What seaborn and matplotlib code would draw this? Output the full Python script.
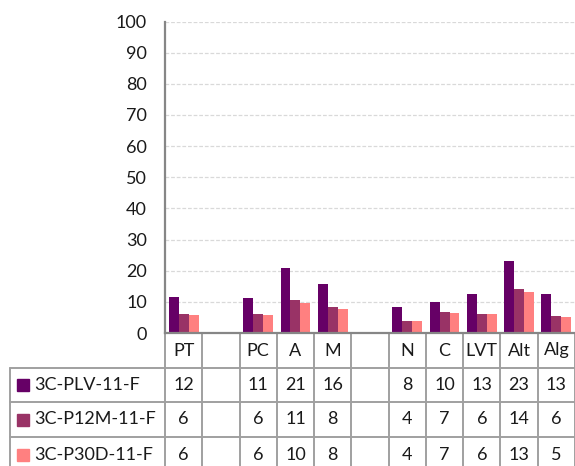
import numpy as np
import pandas as pd
import seaborn as sns
import matplotlib.pyplot as plt
import matplotlib.transforms as mtransforms

# category columns (blank ones are empty spacer columns)
categories = ['PT', '', 'PC', 'A', 'M', '', 'N', 'C', 'LVT', 'Alt', 'Alg']
series_names = ['3C-PLV-11-F', '3C-P12M-11-F', '3C-P30D-11-F']
plv = [11.6, None, 11.1, 20.8, 15.6, None, 8.3, 10.1, 12.6, 23.1, 12.6]
p12m = [6.1, None, 6.0, 10.6, 8.2, None, 4.0, 6.8, 6.2, 14.2, 5.6]
p30d = [5.9, None, 5.7, 9.5, 7.6, None, 4.0, 6.5, 6.0, 13.2, 5.0]
colors = ['#660066', '#993366', '#FF8080']
y_ticks = list(range(0, 101, 10))

rows = []
for name, vals in zip(series_names, [plv, p12m, p30d]):
    for i, v in enumerate(vals):
        if v is not None:
            rows.append({'pos': i, 'series': name, 'value': v})
df = pd.DataFrame(rows)

sns.set_style('white')
plt.rcParams['font.family'] = ['Lato', 'DejaVu Sans']
fs = 13
txt_color = '#1a1a1a'
line_color = '#a0a0a0'

W, H = 575, 466
fig = plt.figure(figsize=(W / 100, H / 100), dpi=100)
ax_h = 311.5
ax = fig.add_axes([165 / W, 1 - 333 / H, 410 / W, ax_h / H])

sns.barplot(data=df, x='pos', y='value', hue='series', order=list(range(len(categories))),
            hue_order=series_names, palette=colors, saturation=1, width=0.8,
            linewidth=0, legend=False, ax=ax)

ax.set_xlim(-0.5, len(categories) - 0.5)
ax.set_ylim(0, 100)
ax.set_yticks(y_ticks)
ax.set_yticklabels([str(t) for t in y_ticks], fontsize=fs, color=txt_color)
ax.tick_params(axis='y', length=0, pad=13)
ax.set_xticks([])
ax.set_xlabel('')
ax.set_ylabel('')
ax.yaxis.grid(True, color='#D9D9D9', linestyle=(0, (3, 1.5)), linewidth=0.9)
ax.set_axisbelow(True)
for s in ['top', 'right']:
    ax.spines[s].set_visible(False)
for s in ['left', 'bottom']:
    ax.spines[s].set_color('#868686')
    ax.spines[s].set_linewidth(1.6)

# data table below the plot
trans = mtransforms.blended_transform_factory(ax.transData, ax.transAxes)
col_px = 410 / len(categories)
x_left = -0.5 - (165 - 10) / col_px
x_right = len(categories) - 0.5
row_edges = [0, 35, 69, 104, 140]
row_y = [-p / ax_h for p in row_edges]

for y in row_y[1:]:
    ax.plot([x_left, x_right], [y, y], transform=trans, clip_on=False,
            color=line_color, lw=1.4)
for k in range(len(categories) + 1):
    x = -0.5 + k
    ax.plot([x, x], [0, row_y[-1]], transform=trans, clip_on=False,
            color=line_color, lw=1.4)
ax.plot([x_left, x_left], [row_y[1], row_y[-1]], transform=trans, clip_on=False,
        color=line_color, lw=1.4)

# header row
for i, c in enumerate(categories):
    ax.text(i, (row_y[0] + row_y[1]) / 2, c, transform=trans, ha='center', va='center',
            fontsize=fs, color=txt_color)

# series rows
key_x = -0.5 - (165 - 23.3) / col_px
label_x = -0.5 - (165 - 34) / col_px
for r, (name, vals, col) in enumerate(zip(series_names, [plv, p12m, p30d], colors)):
    yc = (row_y[r + 1] + row_y[r + 2]) / 2
    ax.plot([key_x], [yc], marker='s', markersize=8.4, color=col, transform=trans,
            clip_on=False, linestyle='none')
    ax.text(label_x, yc, name, transform=trans, ha='left', va='center',
            fontsize=fs, color=txt_color)
    for i, v in enumerate(vals):
        if v is not None:
            ax.text(i, yc, str(int(np.floor(v + 0.5))), transform=trans, ha='center',
                    va='center', fontsize=fs, color=txt_color)

plt.savefig('out.png', dpi=100)
plt.close()
